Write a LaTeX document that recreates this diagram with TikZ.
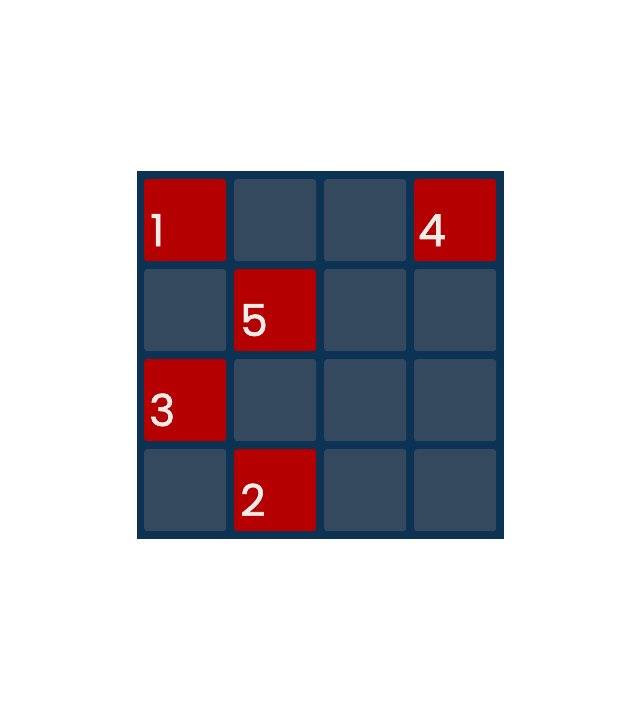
\documentclass[tikz,border=0pt]{standalone}
\usepackage{fontspec}
\setmainfont{Poppins}
\newfontfamily\numfont{Poppins}[FakeBold=1.5]
\definecolor{navy}{RGB}{13,51,84}
\definecolor{cellgrey}{RGB}{52,73,94}
\definecolor{cellred}{RGB}{180,0,0}
\definecolor{numtext}{RGB}{240,237,232}
\begin{document}
\begin{tikzpicture}[x=1pt,y=-1pt,
  board/.style={fill=navy,draw=none},
  greycell/.style={fill=cellgrey,draw=none,rounded corners=3pt,minimum width=82pt,minimum height=82pt,inner sep=0pt,anchor=north west},
  redcell/.style={greycell,fill=cellred},
  num/.style={anchor=base west,inner sep=0pt,text=numtext,font=\numfont\fontsize{44}{44}\selectfont}]
\useasboundingbox (0,0) rectangle (640,710);
\fill[white] (0,0) rectangle (640,710);
\node[board,minimum width=367pt,minimum height=368pt,anchor=north west,inner sep=0pt] (board) at (137,171) {};
% row 1
\node[redcell] (c11) at (144,179) {};
\node[greycell] (c12) at (234,179) {};
\node[greycell] (c13) at (324,179) {};
\node[redcell] (c14) at (414,179) {};
% row 2
\node[greycell] (c21) at (144,269) {};
\node[redcell] (c22) at (234,269) {};
\node[greycell] (c23) at (324,269) {};
\node[greycell] (c24) at (414,269) {};
% row 3
\node[redcell] (c31) at (144,359) {};
\node[greycell] (c32) at (234,359) {};
\node[greycell] (c33) at (324,359) {};
\node[greycell] (c34) at (414,359) {};
% row 4
\node[greycell] (c41) at (144,449) {};
\node[redcell] (c42) at (234,449) {};
\node[greycell] (c43) at (324,449) {};
\node[greycell] (c44) at (414,449) {};
% numbers
\node[num] (n1) at (150,246) {1};
\node[num] (n4) at (418,246) {4};
\node[num] (n5) at (240,336) {5};
\node[num] (n3) at (149,426) {3};
\node[num] (n2) at (240,516) {2};
\end{tikzpicture}
\end{document}
